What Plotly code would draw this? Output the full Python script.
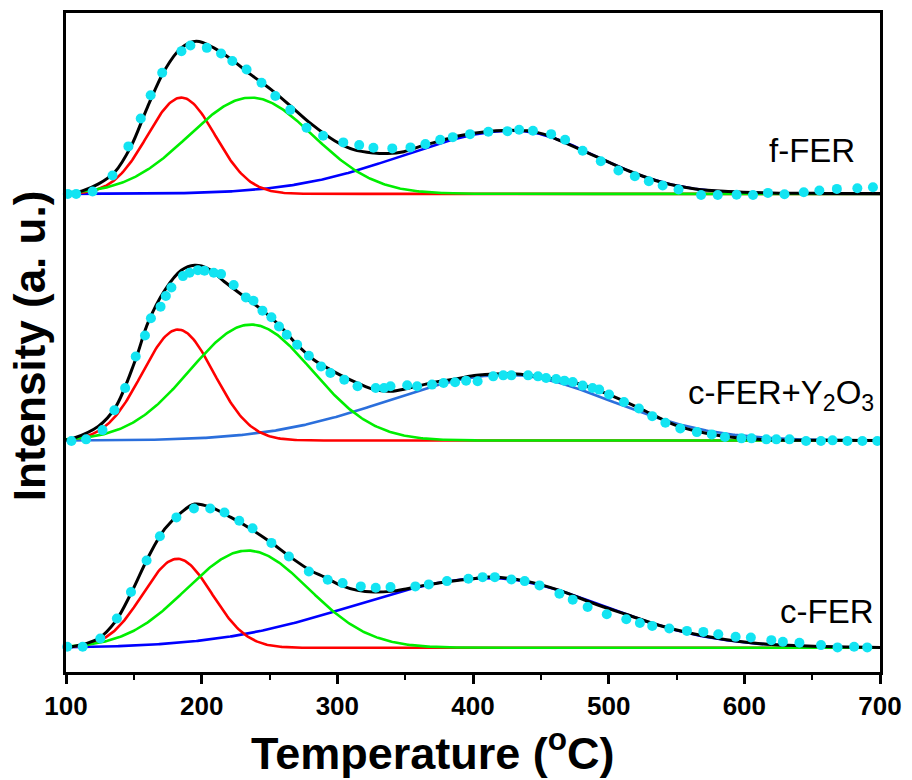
import numpy as np
import plotly.graph_objects as go

# ---------------- data ----------------
samples = ["f-FER", "c-FER+Y2O3", "c-FER"]
sample_labels = ["f-FER", "c-FER+Y<sub>2</sub>O<sub>3</sub>", "c-FER"]
# vertical stacking offsets (a.u.)
offsets = [480.3, 232.5, 24.3]

# fitted component peaks: (centre degC, height a.u., sigma_left, sigma_right)
red_peaks = [(185.0, 96.7, 25.0, 25.0), (182.6, 111.5, 26.5, 26.5), (182.1, 89.4, 25.5, 25.5)]
green_peaks = [(236.3, 96.7, 45.8, 45.8), (236.3, 116.5, 45.0, 45.0), (233.9, 97.7, 45.0, 45.0)]
blue_peaks = [(430.0, 63.5, 82.0, 59.5), (425.0, 66.0, 88.0, 76.0), (412.0, 70.0, 100.0, 83.0)]

# envelope (black) curves
f_env_T = [100, 112, 124, 136, 148, 160, 173, 185, 196, 209, 222, 236, 251, 265, 281, 298, 312, 327, 337,
           349, 361, 376, 390, 405, 417, 428, 440, 452, 465, 481, 496, 515, 539, 564, 588, 620, 660, 700]
f_env_I = [0.5, 3, 10, 22, 48, 87, 125, 146.7, 153.4, 146.7, 135, 120, 105, 89, 70, 53.4, 44.4, 41, 40.5,
           42.4, 47.7, 53.4, 58.4, 61.7, 63.4, 64, 63.3, 60, 53, 43.4, 34.4, 23, 11.7, 5, 2.4, 1, 0.5, 0.3]

y_env_T = [100, 104.5, 124, 136.2, 150.9, 160.6, 172.8, 185, 194.8, 204.6, 216.8, 231.4, 246, 258.2, 270.4,
           282.6, 290.5, 302.6, 314.9, 327.1, 339.2, 351.5, 363.7, 375.8, 388.1, 402.7, 416, 432, 451.5,
           475.9, 500.3, 524.7, 549.1, 573.5, 598, 622.3, 660, 700]
y_env_I = [0.5, 1.8, 14.5, 32.8, 80, 119, 151, 171, 176, 172.8, 159.5, 144.5, 129.5, 114.5, 96.2,
           81.2, 74.5, 65.5, 57.8, 51.2, 49.5, 52.2, 56.2, 59.5, 62.2, 65.5, 66.8, 66.8, 63.5,
           57.8, 46.2, 31.2, 15.5, 6.8, 2.2, 0.5, 0.2, 0]

c_env_T = [100, 104.5, 124, 136.2, 148.4, 160.6, 172.8, 185, 194.8, 207, 221.6, 236.3, 250.9, 265.6, 280.2,
           290.5, 302.6, 314.9, 327.1, 339.2, 351.5, 363.7, 375.8, 388.1, 400.3, 410, 439.3, 463.7, 488.1,
           512.5, 536.9, 561.3, 585.7, 610.1, 646.7, 700]
c_env_I = [0.5, 1, 9.4, 26, 56, 91, 119.4, 136, 144.4, 141, 131, 119.4, 106, 91, 77.7,
           71, 62.7, 57.7, 56, 56.7, 59.4, 62.7, 65.4, 67.7, 69.4, 71, 67, 57.7, 45,
           33.7, 22.7, 14.4, 8.4, 4.4, 1.7, 0.3]

# measured points (cyan)
f_pts_T = [101.3, 107.5, 119.6, 134.3, 146.0, 155.1, 162.4, 170.9, 185.1, 191.7, 203.8, 214.3, 222.6, 233.1,
           244.1, 254.3, 265.3, 277.3, 289.5, 304.4, 316.1, 326.6, 340.5, 353.9, 364.9, 375.8, 385.1, 397.8,
           411.3, 425.4, 434.0, 444.2, 457.6, 467.9, 480.8, 494.2, 507.2, 519.3, 529.6, 539.8, 551.5, 568.1,
           580.4, 594.3, 606.4, 617.4, 629.6, 643.8, 655.3, 668.2, 683.3, 694.8]
f_pts_I = [0, 0, 2.4, 18.4, 47.7, 75.7, 99, 121.7, 143.4, 149, 146.7, 141, 133.4, 125,
           111.7, 98.4, 84.4, 66.4, 58.4, 51.7, 49, 46.4, 45.7, 46.7, 50, 54.4, 57, 60,
           62.4, 63, 64.4, 63.4, 60, 54.4, 43.4, 32.7, 23.4, 17.7, 12.7, 8.4, 4.4, -1.2,
           -1.2, -0.8, -1.2, 1, -0.3, 1.7, 3.4, 5, 5.7, 6.7]

y_pts_T = [104.0, 114.8, 126.9, 135.7, 143.6, 151.4, 158.2, 162.6, 169.7, 173.6, 177.7, 186.2, 191.1, 197.2,
           202.1, 208.9, 214.3, 223.6, 232.6, 238.2, 244.8, 251.4, 257.0, 262.7, 270.4, 279.0,
           288.0, 294.9, 305.1, 314.9, 328.3, 334.4,
           339.2, 351.5, 358.8, 369.8, 378.3, 386.8, 394.9, 403.4, 414.9, 422.3, 428.3, 440.6, 447.9, 453.9,
           461.3, 467.4, 473.5, 480.8, 488.1, 493.0, 500.3, 511.3, 522.3, 532.1, 541.8, 552.8, 565.0, 576.0,
           585.7, 597.9, 605.3, 616.2, 623.6, 633.3, 645.5, 656.5, 665.0, 676.0, 687.0, 698.0]
y_pts_I = [-0.5, 1.2, 10.5, 30.5, 52.8, 84.5, 105.5, 122.8, 134.5, 145.2, 153.8, 165.2, 168.5, 171.2,
           170.5, 168.5, 167.2, 156.2, 143.8, 140.5, 130.5, 123.8, 114.5, 106.2, 96.2, 85.2,
           74.5, 67.8, 61.2, 54.5, 52.8, 52.8,
           54.5, 55.5, 54.5, 56.2, 57.8, 58.5, 60.2, 59.5, 64.5, 65.5, 65.5, 65.5, 64.5, 62.8,
           61.8, 60.2, 58.8, 55.2, 52.8, 51.2, 46.2, 38.8, 32.2, 24.5, 17.8, 12.2, 8.5, 6.2,
           3.5, 2.2, 2.2, 1.2, 1.2, 1.2, -0.5, -0.5, 0.2, -0.5, -0.5, -0.5]

c_pts_T = [100.9, 112.3, 125.3, 137.5, 147.9, 159.4, 169.2, 181.4, 194.3, 206.3, 216.8, 227.7, 237.5, 251.4,
           264.3, 279.0, 292.9, 303.9, 317.3, 328.3, 339.2, 357.5, 367.4, 380.8, 396.6,
           407.1, 416.1, 428.3, 438.1, 449.0, 463.7, 473.5, 484.5, 498.6, 513.0, 523.0, 532.1, 544.7, 557.7,
           569.8, 580.8, 593.6, 604.8, 619.9, 628.4, 640.6, 656.5, 668.7, 680.9, 690.6]
c_pts_I = [1, 1, 9.4, 29.4, 56, 87.7, 112, 131, 140, 140, 136, 127.7, 120, 105.4,
           91.7, 76.7, 68.4, 65, 61.7, 60.4, 61, 61.7, 63.7, 67, 69.4,
           71, 71, 68.7, 67, 62.7, 54.4, 48.4, 41, 33.7, 28.7, 25, 22, 19.4, 17,
           16, 13.7, 11, 10.4, 7.7, 6, 5, 2.7, 0.4, 1, 0.4]

x_ticks = [100, 200, 300, 400, 500, 600, 700]

env_T = [f_env_T, y_env_T, c_env_T]
env_I = [f_env_I, y_env_I, c_env_I]
pts_T = [f_pts_T, y_pts_T, c_pts_T]
pts_I = [f_pts_I, y_pts_I, c_pts_I]

# ---------------- drawing ----------------
T = np.linspace(100, 700, 601)


def peak(p):
    c, h, sl, sr = p
    s = np.where(T < c, sl, sr)
    return h * np.exp(-((T - c) ** 2) / (2 * s ** 2))


blue_cols = ["#0000ff", "#2b6fdc", "#0000ff"]
fig = go.Figure()
for i in range(3):
    off = offsets[i]
    fig.add_trace(go.Scatter(x=T, y=peak(blue_peaks[i]) + off, mode="lines",
                             line=dict(color=blue_cols[i], width=2.6), showlegend=False))
    fig.add_trace(go.Scatter(x=T, y=peak(red_peaks[i]) + off, mode="lines",
                             line=dict(color="#ff0000", width=2.6), showlegend=False))
    fig.add_trace(go.Scatter(x=T, y=peak(green_peaks[i]) + off, mode="lines",
                             line=dict(color="#00ee00", width=2.6), showlegend=False))
    fig.add_trace(go.Scatter(x=env_T[i], y=np.array(env_I[i]) + off, mode="lines",
                             line=dict(color="black", width=3, shape="spline", smoothing=1.0),
                             showlegend=False))
    fig.add_trace(go.Scatter(x=pts_T[i], y=np.array(pts_I[i]) + off, mode="markers",
                             marker=dict(color="#12e4f2", size=10, line=dict(width=0)),
                             showlegend=False, cliponaxis=False))

label_pos = [(0.972, 0.792), (0.995, 0.420), (0.995, 0.092)]
for lab, (px, py) in zip(sample_labels, label_pos):
    fig.add_annotation(text=lab, xref="paper", yref="paper", x=px, y=py,
                       xanchor="right", yanchor="middle", showarrow=False,
                       font=dict(family="Arial, Liberation Sans", size=33, color="black"))

fig.add_annotation(text="<b>Temperature (<sup>o</sup>C)</b>", xref="paper", yref="paper",
                   x=0.45, y=-0.118, xanchor="center", yanchor="middle", showarrow=False,
                   font=dict(family="Arial, Liberation Sans", size=45, color="black"))
fig.add_annotation(text="<b>Intensity (a. u.)</b>", xref="paper", yref="paper",
                   x=-0.045, y=0.495, xanchor="center", yanchor="middle", showarrow=False,
                   textangle=-90,
                   font=dict(family="Arial, Liberation Sans", size=44, color="black"))

fig.update_xaxes(range=[100, 700], tickvals=x_ticks, ticktext=[str(v) for v in x_ticks],
                 showline=True, linecolor="black", linewidth=2.5, mirror=True,
                 ticks="outside", ticklen=9, tickwidth=2.5, tickcolor="black",
                 minor=dict(dtick=50, ticks="outside", ticklen=5, tickwidth=2, tickcolor="black"),
                 tickfont=dict(family="Arial, Liberation Sans", size=26, color="black", weight="bold"),
                 showgrid=False, zeroline=False)
fig.update_yaxes(range=[0, 662], showline=True, linecolor="black", linewidth=2.5, mirror=True,
                 showticklabels=False, ticks="", showgrid=False, zeroline=False)

fig.update_layout(width=912, height=780, margin=dict(l=66, r=26, t=10, b=108),
                  plot_bgcolor="white", paper_bgcolor="white", showlegend=False)

fig.write_html("out.html")
